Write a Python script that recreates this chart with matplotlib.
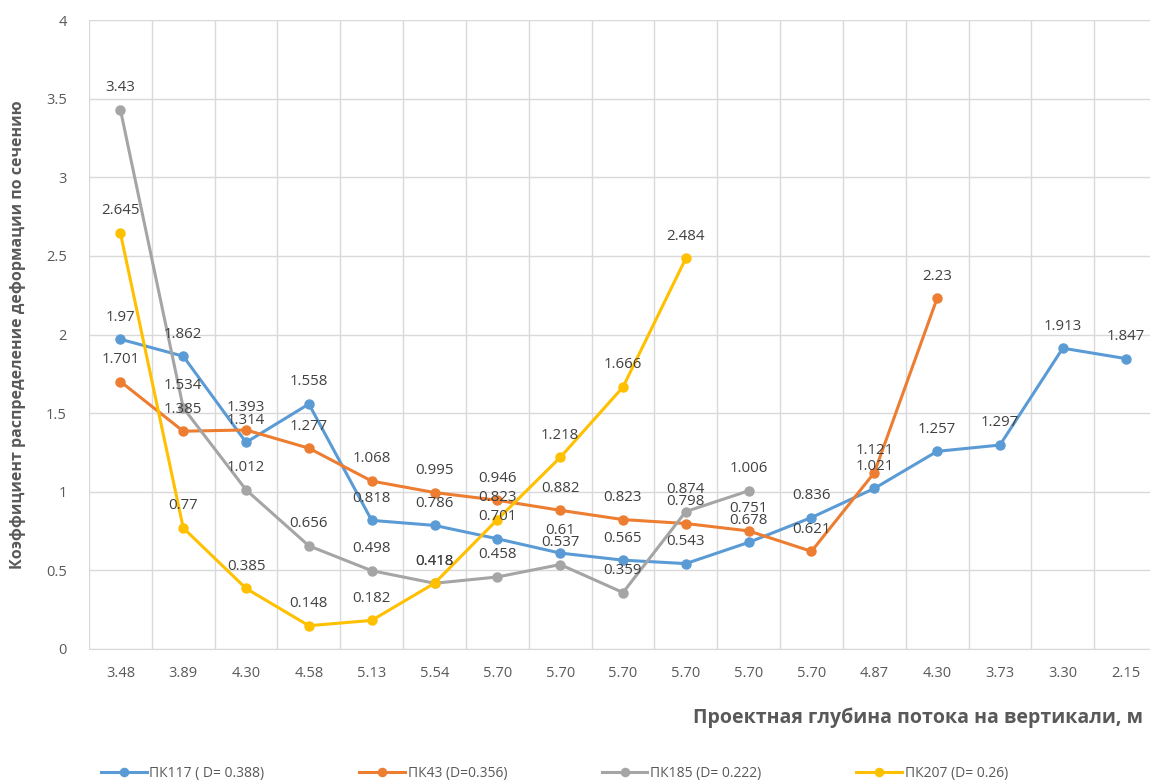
import matplotlib
matplotlib.use('Agg')

import numpy as np
import matplotlib.pyplot as plt

plt.rcParams['font.family'] = ['Open Sans', 'DejaVu Sans']

depths = ["3.48", "3.89", "4.30", "4.58", "5.13", "5.54", "5.70", "5.70", "5.70",
          "5.70", "5.70", "5.70", "4.87", "4.30", "3.73", "3.30", "2.15"]

pk117 = [1.97, 1.862, 1.314, 1.558, 0.818, 0.786, 0.701, 0.61, 0.565, 0.543,
         0.678, 0.836, 1.021, 1.257, 1.297, 1.913, 1.847]
pk43 = [1.701, 1.385, 1.393, 1.277, 1.068, 0.995, 0.946, 0.882, 0.823, 0.798,
        0.751, 0.621, 1.121, 2.23]
pk185 = [3.43, 1.534, 1.012, 0.656, 0.498, 0.418, 0.458, 0.537, 0.359, 0.874, 1.006]
pk207 = [2.645, 0.77, 0.385, 0.148, 0.182, 0.418, 0.823, 1.218, 1.666, 2.484]

series = [
    ("ПК117 ( D= 0.388)", pk117, "#5B9BD5"),
    ("ПК43 (D=0.356)", pk43, "#ED7D31"),
    ("ПК185 (D= 0.222)", pk185, "#A5A5A5"),
    ("ПК207 (D= 0.26)", pk207, "#FFC000"),
]

fig = plt.figure(figsize=(11.5, 7.83), dpi=100)
ax = fig.add_axes([89/1150, 1 - 649/783, (1157 - 89)/1150, (649 - 20)/783])

for name, vals, col in series:
    x = np.arange(len(vals))
    ax.plot(x, vals, color=col, lw=2.2, marker='o', ms=6.5, label=name, zorder=3)
    for xi, v in zip(x, vals):
        ax.annotate(f"{v:g}", (xi, v), xytext=(0, 10.5), textcoords='offset points',
                    ha='center', va='bottom', fontsize=10.8, color='#404040', zorder=4)

ax.set_xlim(-0.5, len(depths) - 0.5)
ax.set_ylim(0, 4)
ax.set_yticks(np.arange(0, 4.01, 0.5))
ax.set_yticklabels(["0", "0.5", "1", "1.5", "2", "2.5", "3", "3.5", "4"])
ax.set_xticks(np.arange(len(depths)))
ax.set_xticklabels(depths)
ax.set_xticks(np.arange(len(depths) + 1) - 0.5, minor=True)
ax.grid(True, which='major', axis='y', color='#D9D9D9', lw=1)
ax.grid(True, which='minor', axis='x', color='#D9D9D9', lw=1)
ax.tick_params(which='both', length=0, labelsize=10.5, colors='#595959', pad=12)
ax.tick_params(axis='y', pad=16)
for s in ['top', 'right', 'left']:
    ax.spines[s].set_visible(False)
ax.spines['bottom'].set_color('#D9D9D9')
ax.set_axisbelow(True)

fig.text(1143/1150, 1 - 718/783, "Проектная глубина потока на вертикали, м",
         ha='right', va='center', fontsize=14, fontweight='bold', color='#595959')
fig.text(18/1150, 1 - 335/783, "Коэффициент распределение деформации по сечению",
         ha='center', va='center', rotation=90, fontsize=11.5, fontweight='bold', color='#595959')

fig.legend(loc='center', bbox_to_anchor=(0.482, 1 - 773/783), ncol=4, frameon=False,
           fontsize=10, labelcolor='#595959', handlelength=3.3, columnspacing=6.8,
           handletextpad=0.2, markerscale=0.9)

fig.savefig("out.png", dpi=100)
